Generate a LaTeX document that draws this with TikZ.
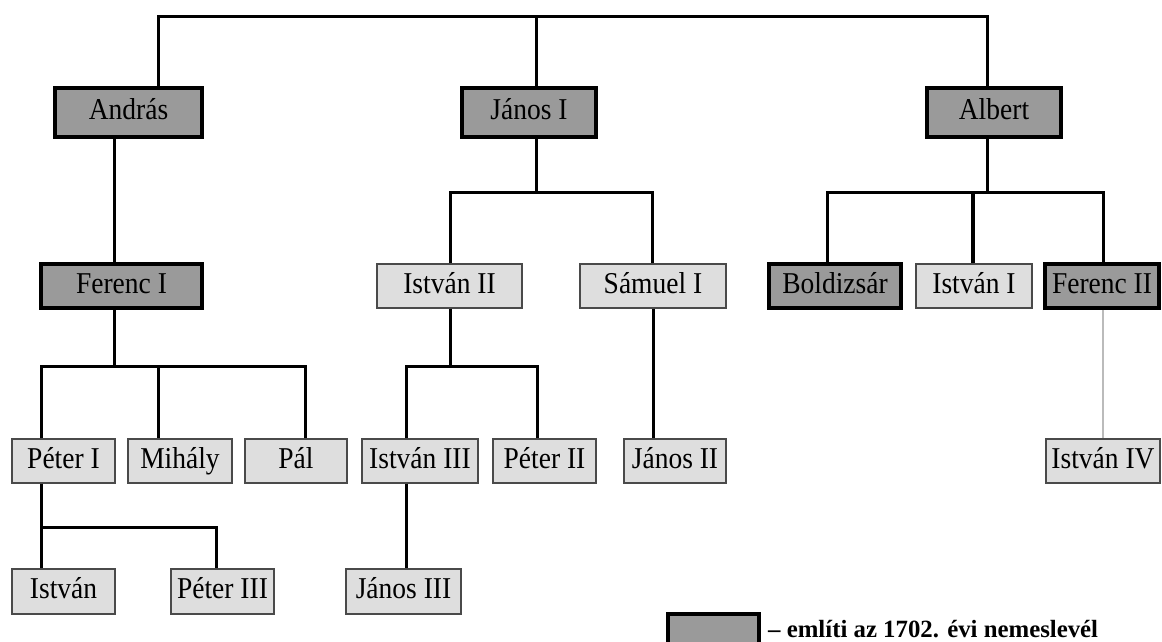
\documentclass[tikz,border=0pt]{standalone}
\usepackage{fontspec}
\setmainfont{Liberation Serif}
\definecolor{boxdark}{HTML}{9A9A9A}
\definecolor{boxlight}{HTML}{DEDEDE}
\definecolor{lineg}{HTML}{4A4A4A}
\definecolor{greyln}{HTML}{BBBBBB}
\newcommand\tallname[1]{\scalebox{1}[1.1]{#1}}
\begin{document}
\begin{tikzpicture}[x=1pt,y=-1pt,
  box/.style={rectangle, inner sep=0pt, text height=20pt, text depth=6pt,
    font=\fontsize{27.5}{30}\selectfont},
  darkbox/.style={box, draw=black, line width=3.5pt, fill=boxdark},
  lightbox/.style={box, draw=lineg, line width=1.3pt, fill=boxlight},
  conn/.style={line width=3pt, black},
  thickconn/.style={line width=4.5pt, black},
  greyline/.style={line width=1.8pt, greyln},
  r1/.style={minimum height=49pt},
  r2/.style={minimum height=44pt},
  r3/.style={minimum height=44pt},
  r4/.style={minimum height=45pt}]
\useasboundingbox (0,0) rectangle (1162,641);
% row 1
\node[darkbox, r1, minimum width=147pt] (andras) at (128.5,112.5) {\tallname{András}};
\node[darkbox, r1, minimum width=134pt] (janos1) at (529,112.5) {\tallname{János I}};
\node[darkbox, r1, minimum width=134pt] (albert) at (994,112.5) {\tallname{Albert}};
% row 2
\node[darkbox, r2, minimum width=161pt] (ferenc1) at (121.5,286) {\tallname{Ferenc I}};
\node[lightbox, r2, minimum width=145pt] (istvan2) at (449.5,286) {\tallname{István II}};
\node[lightbox, r2, minimum width=146pt] (samuel1) at (653,286) {\tallname{Sámuel I}};
\node[darkbox, r2, minimum width=132pt] (boldizsar) at (835,286) {\tallname{Boldizsár}};
\node[lightbox, r2, minimum width=116pt] (istvan1) at (974,286) {\tallname{István I}};
\node[darkbox, r2, minimum width=114pt] (ferenc2) at (1102,286) {\tallname{Ferenc II}};
% row 3
\node[lightbox, r3, minimum width=103pt] (peter1) at (63.5,461) {\tallname{Péter I}};
\node[lightbox, r3, minimum width=104pt] (mihaly) at (180,461) {\tallname{Mihály}};
\node[lightbox, r3, minimum width=102pt] (pal) at (296,461) {\tallname{Pál}};
\node[lightbox, r3, minimum width=116pt] (istvan3) at (420,461) {\tallname{István III}};
\node[lightbox, r3, minimum width=103pt] (peter2) at (544.5,461) {\tallname{Péter II}};
\node[lightbox, r3, minimum width=102pt] (janos2) at (675,461) {\tallname{János II}};
\node[lightbox, r3, minimum width=114pt] (istvan4) at (1103,461) {\tallname{István IV}};
% row 4
\node[lightbox, r4, minimum width=103pt] (istvan) at (63.5,591.5) {\tallname{István}};
\node[lightbox, r4, minimum width=103pt] (peter3) at (222.5,591.5) {\tallname{Péter III}};
\node[lightbox, r4, minimum width=115pt] (janos3) at (403.5,591.5) {\tallname{János III}};
% connector points
\coordinate (ta) at (158,16);
\coordinate (tj) at (536,16);
\coordinate (tc) at (987,16);
\coordinate (af) at (114,366);
\coordinate (b1l) at (41,366);
\coordinate (b1m) at (158,366);
\coordinate (b1r) at (305,366);
\coordinate (jb) at (536,192);
\coordinate (jl) at (450,192);
\coordinate (jr) at (652,192);
\coordinate (sb) at (450,366);
\coordinate (sl) at (406,366);
\coordinate (sr) at (537,366);
\coordinate (sj) at (653,400);
\coordinate (ab) at (987,192);
\coordinate (al) at (827,192);
\coordinate (am) at (973,192);
\coordinate (ar) at (1103,192);
\coordinate (pl) at (41,527);
\coordinate (pr) at (216,527);
\coordinate (iv) at (406,520);
% connectors
\draw[conn] (andras.north -| ta) -- (ta) -- (tc) -- (albert.north -| tc);
\draw[conn] (tj) -- (janos1.north -| tj);
\draw[conn] (andras.south -| af) -- (ferenc1.north -| af);
\draw[conn] (ferenc1.south -| af) -- (af);
\draw[conn] (peter1.north -| b1l) -- (b1l) -- (b1r) -- (pal.north -| b1r);
\draw[conn] (b1m) -- (mihaly.north -| b1m);
\draw[conn] (janos1.south -| jb) -- (jb);
\draw[conn] (istvan2.north -| jl) -- (jl) -- (jr) -- (samuel1.north -| jr);
\draw[conn] (istvan2.south -| sb) -- (sb);
\draw[conn] (istvan3.north -| sl) -- (sl) -- (sr) -- (peter2.north -| sr);
\draw[conn] (samuel1.south -| sj) -- (janos2.north -| sj);
\draw[conn] (albert.south -| ab) -- (ab);
\draw[conn] (boldizsar.north -| al) -- (al) -- (ar) -- (ferenc2.north -| ar);
\draw[thickconn] (am) -- (istvan1.north -| am);
\draw[greyline] (ferenc2.south -| ar) -- (istvan4.north -| ar);
\draw[conn] (peter1.south -| pl) -- (istvan.north -| pl);
\draw[conn] (pl) -- (pr) -- (peter3.north -| pr);
\draw[conn] (istvan3.south -| iv) -- (janos3.north -| iv);
% legend
\node[darkbox, minimum width=91pt, minimum height=40pt, anchor=north west] (leg) at (666,612) {};
\node[anchor=base west, inner sep=0pt, font=\bfseries\fontsize{24.8}{26}\selectfont] (legtxt) at (768,637) {– említi az 1702. évi nemeslevél};
\end{tikzpicture}
\end{document}
